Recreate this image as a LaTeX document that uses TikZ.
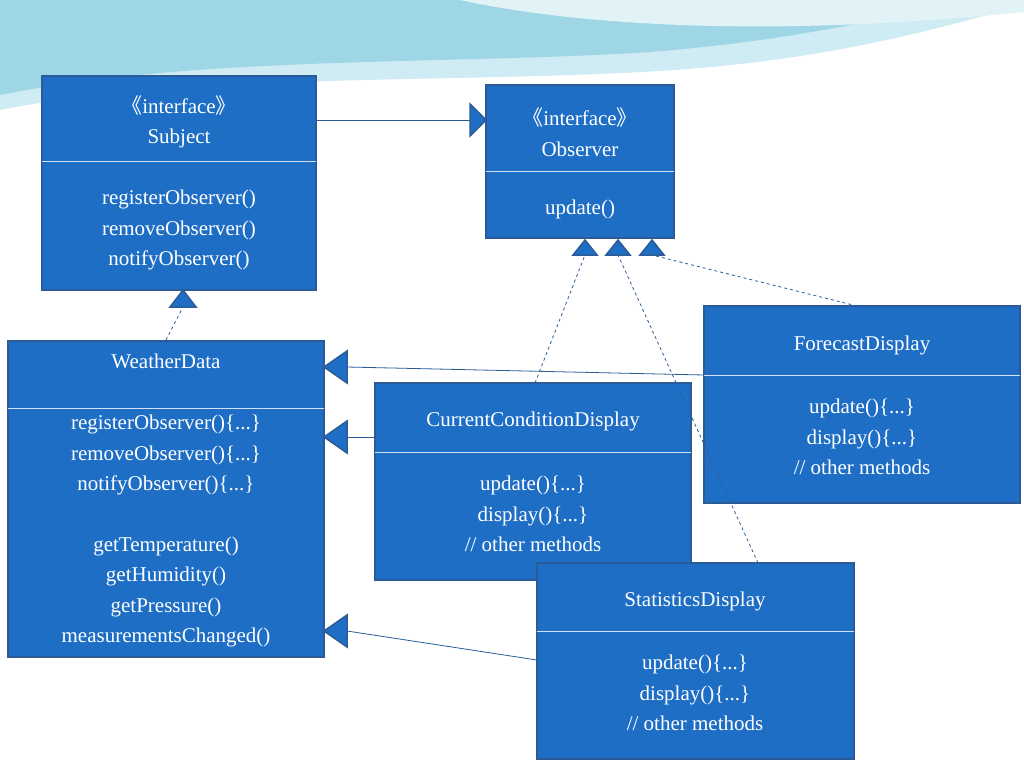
\documentclass[tikz,border=0pt]{standalone}
\usepackage{fontspec}
\setmainfont{Liberation Serif}
\newfontfamily\cjk{Noto Sans CJK SC}
\newcommand{\myLq}{{\cjk 《}}
\newcommand{\myRq}{{\cjk 》}}
\begin{document}
\begin{tikzpicture}[x=1pt,y=-1pt,
 box/.style={draw=boxb,line width=1.5pt,fill=boxf},
 dv/.style={draw=white!80!boxf,line width=0.8pt},
 tx/.style={text=white,font=\fontsize{21}{30.5}\selectfont,align=center},
 ln/.style={draw=boxb,line width=0.8pt},
 dl/.style={ln,dashed},
 tri/.style={draw=boxb,line width=1.5pt,fill=boxf}]
\definecolor{boxf}{HTML}{1E6EC6}
\definecolor{boxb}{HTML}{2B5C97}
\definecolor{wv}{HTML}{9FD6E6}
\useasboundingbox (0,0) rectangle (1024,768);
\fill[white] (0,0) rectangle (1024,768);
% waves
\fill[wv!50] (0,0) -- (0,110) .. controls (200,70) and (500,85) .. (700,68) .. controls (850,55) and (950,25) .. (1024,5) -- (1024,0) -- cycle;
\fill[wv] (0,0) -- (0,95) .. controls (200,55) and (450,65) .. (650,52) .. controls (800,40) and (900,15) .. (960,0) -- cycle;
\fill[white!70!wv] (460,0) .. controls (600,30) and (800,35) .. (1024,12) -- (1024,0) -- cycle;
% boxes
\path[box] (42,76) rectangle (316,290); \draw[dv] (42,161)--(316,161);
\node[tx] (s1) at (179,122) {\myLq interface\myRq\\Subject};
\node[tx] (s2) at (179,230) {registerObserver()\\removeObserver()\\notifyObserver()};
\path[box] (486,85) rectangle (674,238); \draw[dv] (486,171)--(674,171);
\node[tx] (o1) at (580,132) {\myLq interface\myRq\\Observer};
\node[tx] (o2) at (580,209) {update()};
\path[box] (8,341) rectangle (324,657); \draw[dv] (8,408)--(324,408);
\node[tx] (w1) at (166,361) {WeatherData};
\node[tx] (w2) at (166,531) {registerObserver()\{...\}\\removeObserver()\{...\}\\notifyObserver()\{...\}\\[30pt]getTemperature()\\getHumidity()\\getPressure()\\measurementsChanged()};
\path[box] (375,383) rectangle (691,580); \draw[dv] (375,452)--(691,452);
\node[tx] (c1) at (533,421) {CurrentConditionDisplay};
\node[tx] (c2) at (533,514) {update()\{...\}\\display()\{...\}\\// other methods};
\path[box] (704,306) rectangle (1020,503); \draw[dv] (704,375)--(1020,375);
\node[tx] (f1) at (862,345) {ForecastDisplay};
\node[tx] (f2) at (862,437) {update()\{...\}\\display()\{...\}\\// other methods};
\path[box] (537,563) rectangle (854,759); \draw[dv] (537,631)--(854,631);
\node[tx] (t1) at (695,601) {StatisticsDisplay};
\node[tx] (t2) at (695,693) {update()\{...\}\\display()\{...\}\\// other methods};
% connectors
\coordinate (a1) at (316,120); \coordinate (h1) at (470,120);
\draw[ln] (a1)--(h1); \path[tri] (486,120)--(470,104)--(470,136)--cycle;
\coordinate (a2) at (166,340); \coordinate (h2) at (183,307);
\draw[dl] (a2)--(h2); \path[tri] (183,290)--(170,307)--(196,307)--cycle;
\coordinate (a3) at (535,383); \coordinate (h3) at (585,255);
\draw[dl] (a3)--(h3);
\coordinate (a4) at (758,563); \coordinate (h4) at (618,255);
\draw[dl] (a4)--(h4);
\coordinate (a5) at (857,306); \coordinate (h5) at (652,255);
\draw[dl] (a5)--(h5);
\foreach \x in {585,618,652} \path[tri] (\x,240)--(\x-12,255)--(\x+12,255)--cycle;
\coordinate (a6) at (704,375); \coordinate (h6) at (347,367);
\draw[ln] (a6)--(h6); \path[tri] (324,367)--(347,351)--(347,383)--cycle;
\coordinate (a7) at (375,437); \coordinate (h7) at (347,437);
\draw[ln] (a7)--(h7); \path[tri] (324,437)--(347,421)--(347,453)--cycle;
\coordinate (a8) at (537,660); \coordinate (h8) at (347,631);
\draw[ln] (a8)--(h8); \path[tri] (324,631)--(347,615)--(347,647)--cycle;
\end{tikzpicture}
\end{document}
